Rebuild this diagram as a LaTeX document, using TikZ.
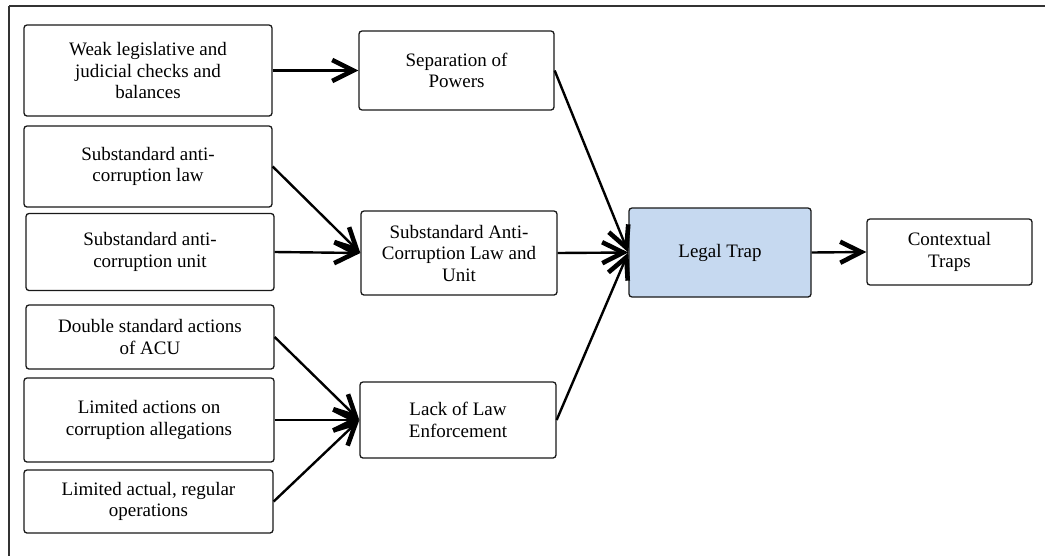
\documentclass[tikz,border=0pt]{standalone}
\usepackage{fontspec}
\setmainfont{Liberation Serif}
\usetikzlibrary{arrows.meta}
\definecolor{trapblue}{HTML}{C6D9F0}
\tikzset{
  box/.style={draw=black!90, line width=1.3pt, rounded corners=3pt, fill=white,
    align=center, inner sep=2pt,
    font=\fontsize{19}{21.5}\selectfont},
  keybox/.style={box, fill=trapblue},
  openbarb/.tip={Straight Barb[length=21pt, width=21pt, line width=4.6pt]},
  link/.style={line width=2.4pt, draw=black, -openbarb},
  frame/.style={line width=2pt, draw=black!80}
}
\begin{document}
\begin{tikzpicture}[x=1pt, y=-1pt]
\useasboundingbox (0,0) rectangle (1045,555);
% outer frame (only the top and left edges fall inside the page)
\draw[frame] (9,5.5) -- (1046,5.5);
\draw[frame] (9,5.5) -- (9,556);

% causes
\node[box, minimum width=248pt, minimum height=91pt] (weak) at (148,70.5)
  {Weak legislative and\\judicial checks and\\balances};
\node[box, minimum width=248pt, minimum height=81pt] (law) at (148,166.5)
  {Substandard anti-\\corruption law};
\node[box, minimum width=248pt, minimum height=77pt] (unit) at (150,252)
  {Substandard anti-\\corruption unit};
\node[box, minimum width=248pt, minimum height=64pt] (double) at (150,337)
  {Double standard actions\\of ACU};
\node[box, minimum width=250pt, minimum height=84pt] (allege) at (149,420)
  {Limited actions on\\corruption allegations};
\node[box, minimum width=249pt, minimum height=63pt] (ops) at (148.5,501.5)
  {Limited actual, regular\\operations};

% intermediate factors
\node[box, minimum width=195pt, minimum height=79pt] (sep) at (456.5,70.5)
  {Separation of\\Powers};
\node[box, minimum width=196pt, minimum height=84pt] (acu) at (459,253)
  {Substandard Anti-\\Corruption Law and\\Unit};
\node[box, minimum width=196pt, minimum height=76pt] (enf) at (458,420)
  {Lack of Law\\Enforcement};

% outcome
\node[keybox, minimum width=182pt, minimum height=89pt] (trap) at (720,252.5)
  {Legal Trap};
\node[box, minimum width=165pt, minimum height=66pt] (ctx) at (949.5,252)
  {Contextual\\Traps};

% connectors
\draw[link] (weak.east) -- (sep.west);
\draw[link] (law.east) -- (acu.west);
\draw[link] (unit.east) -- (acu.west);
\draw[link] (double.east) -- (enf.west);
\draw[link] (allege.east) -- (enf.west);
\draw[link] (ops.east) -- (enf.west);
\draw[link] (sep.east) -- (trap.west);
\draw[link] (acu.east) -- (trap.west);
\draw[link] (enf.east) -- (trap.west);
\draw[link] (trap.east) -- (ctx.west);
\end{tikzpicture}
\end{document}
